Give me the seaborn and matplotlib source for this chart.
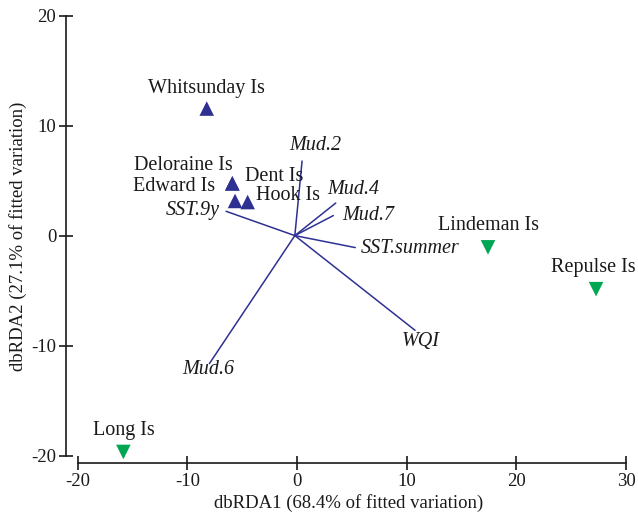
import matplotlib
matplotlib.use("Agg")
import matplotlib.pyplot as plt
import seaborn as sns
import pandas as pd

# Site scores
sites = ["Whitsunday Is", "Deloraine Is", "Dent Is", "Edward Is", "Hook Is",
         "Lindeman Is", "Repulse Is", "Long Is"]
db1 = [-8.23, -5.9, -5.9, -5.65, -4.5, 17.41, 27.26, -15.83]
db2 = [11.55, 4.75, 4.75, 3.15, 3.05, -1.07, -4.87, -19.67]
group = ["A", "A", "A", "A", "A", "B", "B", "B"]

# Label anchor positions (data units)
lab_x = [-8.3, -5.83, -4.74, -7.47, -3.74, 17.41, 27.0, -15.8]
lab_y = [13.4, 6.4, 5.35, 4.48, 3.6, 0.94, -2.9, -17.7]
lab_ha = ["center", "right", "left", "right", "left", "center", "center", "center"]

# Predictor vectors
vec_names = ["Mud.2", "Mud.4", "Mud.7", "SST.9y", "SST.summer", "Mud.6", "WQI"]
vec_x = [0.46, 3.53, 3.31, -6.47, 5.31, -7.99, 10.76]
vec_y = [6.78, 2.96, 1.82, 2.21, -1.09, -11.64, -8.61]
vlab_x = [1.64, 5.15, 6.47, -7.02, 5.83, -8.1, 11.26]
vlab_y = [8.2, 4.18, 1.85, 2.3, -1.15, -12.2, -9.6]
vlab_ha = ["center", "center", "center", "right", "left", "center", "center"]

x_ticks = [-20, -10, 0, 10, 20, 30]
y_ticks = [-20, -10, 0, 10, 20]

sns.set_style("white")
plt.rcParams["font.family"] = ["Liberation Serif", "DejaVu Serif"]
plt.rcParams["axes.unicode_minus"] = False

navy = "#2E3192"
green = "#00A651"
txt = "#1a1a1a"

fig = plt.figure(figsize=(6.38, 5.16), dpi=100)
ax = fig.add_axes([66 / 638, (516 - 463.3) / 516, 565.6 / 638, 453.2 / 516])

df = pd.DataFrame({"dbRDA1": db1, "dbRDA2": db2, "group": group})
sns.scatterplot(data=df, x="dbRDA1", y="dbRDA2", hue="group", style="group",
                markers={"A": "^", "B": "v"}, palette={"A": navy, "B": green},
                s=110, linewidth=0, legend=False, ax=ax, zorder=3)

for x, y in zip(vec_x, vec_y):
    ax.plot([-0.2, x], [0, y], color=navy, lw=1.1, zorder=2)

for n, x, y, ha in zip(vec_names, vlab_x, vlab_y, vlab_ha):
    ax.text(x, y, n, ha=ha, va="center", fontsize=14.5, style="italic", color=txt)

for n, x, y, ha in zip(sites, lab_x, lab_y, lab_ha):
    ax.text(x, y, n, ha=ha, va="center", fontsize=14.5, color=txt)

ax.set_xlim(-21.06, 30.5)
ax.set_ylim(-20.7, 20.5)
ax.set_xticks(x_ticks)
ax.set_yticks(y_ticks)
ax.spines["top"].set_visible(False)
ax.spines["right"].set_visible(False)
ax.spines["left"].set_bounds(-20, 20)
ax.spines["bottom"].set_bounds(-20, 30)
for s in ["left", "bottom"]:
    ax.spines[s].set_color(txt)
    ax.spines[s].set_linewidth(1.2)
ax.tick_params(direction="inout", length=10, width=1.2, colors=txt,
               labelsize=13.5, pad=2, left=True, bottom=True)

ax.set_xlabel("dbRDA1 (68.4% of fitted variation)", fontsize=13.5, color=txt, labelpad=3)
ax.set_ylabel("dbRDA2 (27.1% of fitted variation)", fontsize=13.5, color=txt, labelpad=3)

fig.savefig("out.png", dpi=100)
